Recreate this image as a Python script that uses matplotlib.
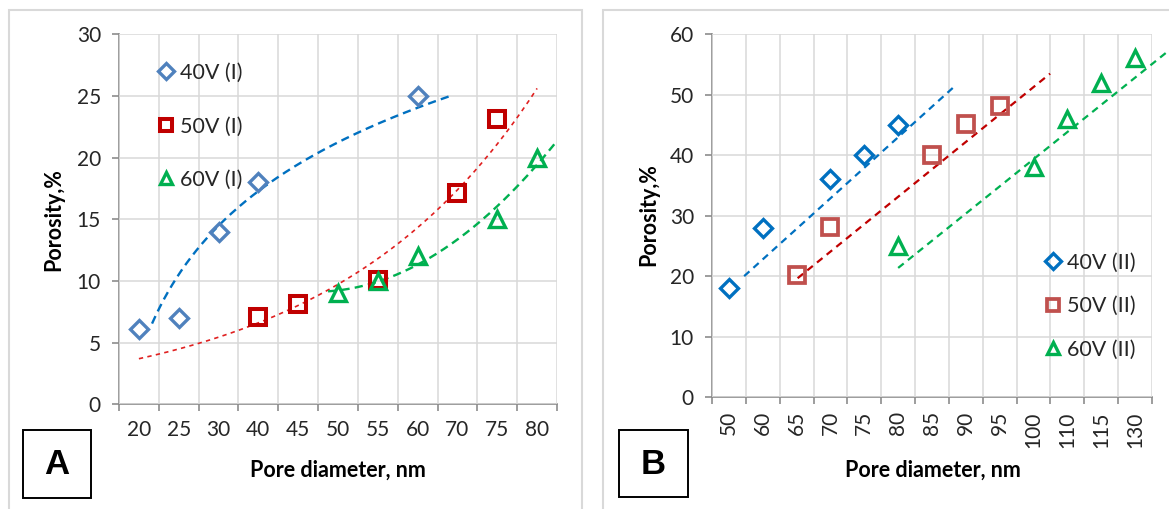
import numpy as np
import matplotlib
matplotlib.use('Agg')
import matplotlib.pyplot as plt
from matplotlib.patches import Rectangle

plt.rcParams['font.family'] = ['Lato', 'DejaVu Sans']

# ---------------- data ----------------
cats_a = ['20', '25', '30', '40', '45', '50', '55', '60', '70', '75', '80']
a_40v = [6.1, 7.0, 14.0, 18.0, None, None, None, 25.0, None, None, None]
a_50v = [None, None, None, 7.1, 8.1, None, 10.1, None, 17.1, 23.1, None]
a_60v = [None, None, None, None, None, 9.0, 10.0, 12.0, None, 15.0, 20.0]
labels_a = ['40V (I)', '50V (I)', '60V (I)']

cats_b = ['50', '60', '65', '70', '75', '80', '85', '90', '95', '100', '110', '115', '130']
b_40v = [18.0, 28.0, None, 36.0, 40.0, 45.0, None, None, None, None, None, None, None]
b_50v = [None, None, 20.2, 28.1, None, None, 40.1, 45.1, 48.1, None, None, None, None]
b_60v = [None, None, None, None, None, 25.0, None, None, None, 38.0, 46.0, 52.0, 56.0]
labels_b = ['40V (II)', '50V (II)', '60V (II)']

W, H = 1169, 509
fig = plt.figure(figsize=(W / 100, H / 100), dpi=100)


def fx(px):
    return px / W


def fy(py):
    return 1 - py / H


def pts(vals):
    x = np.array([i for i, v in enumerate(vals) if v is not None], float)
    y = np.array([v for v in vals if v is not None], float)
    return x, y


def trend(vals, kind, deg, x0, x1, shift=0.0):
    x, y = pts(vals)
    xs = np.linspace(x0, x1, 300)
    xf = xs - shift
    if kind == 'exp':
        c = np.polyfit(x, np.log(y), 1)
        ys = np.exp(np.polyval(c, xf))
    elif kind == 'log':
        c = np.polyfit(np.log(x + 1), y, 1)
        ys = np.polyval(c, np.log(xf + 1))
    else:
        c = np.polyfit(x, y, deg)
        ys = np.polyval(c, xf)
    return xs, ys


GRID = '#d9d9d9'
AXC = '#8c8c8c'
TXT = '#262626'
TICK_FS = 15
LEG_FS = 15.5
LAB_FS = 15.5


def setup(ax, cats, ymax, ystep, rot):
    n = len(cats)
    ax.set_xlim(-0.5, n - 0.5)
    ax.set_ylim(0, ymax)
    ax.set_xticks(range(n))
    ax.set_xticklabels(cats, rotation=rot)
    ax.set_xticks(np.arange(-0.5, n, 1.0), minor=True)
    ax.set_yticks(np.arange(0, ymax + 0.1, ystep))
    ax.tick_params(axis='x', which='major', length=0, labelsize=TICK_FS, labelcolor=TXT,
                   pad=11 if rot == 0 else 10)
    ax.tick_params(axis='x', which='minor', length=5, width=1.2, color=AXC)
    ax.tick_params(axis='y', which='major', length=5, width=1.2, color=AXC,
                   labelsize=TICK_FS, labelcolor=TXT, pad=8)
    ax.grid(True, which='minor', axis='x', color=GRID, lw=1.1)
    ax.grid(True, which='major', axis='y', color=GRID, lw=1.1)
    ax.set_axisbelow(True)
    for s in ['top', 'right']:
        ax.spines[s].set_visible(False)
    for s in ['left', 'bottom']:
        ax.spines[s].set_color(AXC)
        ax.spines[s].set_linewidth(1.2)
        ax.spines[s].set_zorder(0.5)


# ---------------- panel A ----------------
axA = fig.add_axes([fx(119), fy(404.3), fx(557) - fx(119), fy(34.3) - fy(404.3)])
setup(axA, cats_a, 30, 5, 0)

x, ys = trend(a_40v, 'log', 1, 0.33, 7.87)
axA.plot(x, ys, color='#0070c0', lw=1.7, dashes=(3.5, 2.2), zorder=2)
x, ys = trend(a_50v, 'exp', 1, 0.0, 10.0)
axA.plot(x, ys, color='#e02020', lw=1.2, dashes=(2.6, 2.6), zorder=2)
x, ys = trend(a_60v, 'poly', 2, 4.75, 10.45)
axA.plot(x, ys, color='#00b050', lw=1.7, dashes=(3.5, 2.2), zorder=2)

hA = []
x, y = pts(a_40v)
hA += axA.plot(x, y, ls='none', marker='D', ms=9.6, mew=2.4, mfc='none', mec='#4f81bd', zorder=3, clip_on=False)
x, y = pts(a_50v)
hA += axA.plot(x, y, ls='none', marker='s', ms=11.2, mew=2.9, mfc='none', mec='#c00000', zorder=3, clip_on=False)
x, y = pts(a_60v)
hA += axA.plot(x, y, ls='none', marker='^', ms=11.5, mew=2.4, mfc='none', mec='#00b050', zorder=4, clip_on=False)

legA = axA.legend(hA, labels_a, loc='upper left', bbox_to_anchor=(fx(158), fy(63)),
                  bbox_transform=fig.transFigure, frameon=False, fontsize=LEG_FS,
                  handlelength=0.75, handletextpad=0.25, labelspacing=1.55, borderpad=0,
                  borderaxespad=0, markerscale=0.8)
for t in legA.get_texts():
    t.set_color(TXT)

fig.text(fx(54), fy(220), 'Porosity,%', rotation=90, ha='center', va='center',
         fontsize=LAB_FS, fontweight='bold', color='black')
fig.text(fx(338), fy(470), 'Pore diameter, nm', ha='center', va='center',
         fontsize=LAB_FS, fontweight='bold', color='black')

# ---------------- panel B ----------------
axB = fig.add_axes([fx(712), fy(397.3), fx(1152) - fx(712), fy(34.3) - fy(397.3)])
setup(axB, cats_b, 60, 10, 90)

x, ys = trend(b_40v, 'poly', 1, 0.45, 6.63, shift=0.5)
axB.plot(x, ys, color='#0070c0', lw=1.6, dashes=(3.2, 2.4), zorder=2)
x, ys = trend(b_50v, 'poly', 1, 2.03, 9.49, shift=0.5)
axB.plot(x, ys, color='#c00000', lw=1.6, dashes=(3.2, 2.4), zorder=2)
x, ys = trend(b_60v, 'poly', 1, 5.0, 13.49, shift=0.5)
axB.plot(x, ys, color='#00b050', lw=1.6, dashes=(3.2, 2.4), zorder=2, clip_on=False)

hB = []
x, y = pts(b_40v)
hB += axB.plot(x, y, ls='none', marker='D', ms=9.6, mew=2.4, mfc='none', mec='#0070c0', zorder=3, clip_on=False)
x, y = pts(b_50v)
hB += axB.plot(x, y, ls='none', marker='s', ms=11.2, mew=2.7, mfc='none', mec='#c0504d', zorder=3, clip_on=False)
x, y = pts(b_60v)
hB += axB.plot(x, y, ls='none', marker='^', ms=11.5, mew=2.4, mfc='none', mec='#00b050', zorder=4, clip_on=False)

legB = axB.legend(hB, labels_b, loc='upper left', bbox_to_anchor=(fx(1045), fy(253)),
                  bbox_transform=fig.transFigure, frameon=False, fontsize=LEG_FS,
                  handlelength=0.75, handletextpad=0.25, labelspacing=1.08, borderpad=0,
                  borderaxespad=0, markerscale=0.8)
for t in legB.get_texts():
    t.set_color(TXT)

fig.text(fx(649), fy(215), 'Porosity,%', rotation=90, ha='center', va='center',
         fontsize=LAB_FS, fontweight='bold', color='black')
fig.text(fx(933), fy(470), 'Pore diameter, nm', ha='center', va='center',
         fontsize=LAB_FS, fontweight='bold', color='black')

# ---------------- frames and panel letters ----------------
fig.patches.append(Rectangle((fx(9), fy(520)), fx(582) - fx(9), fy(10) - fy(520),
                             transform=fig.transFigure, fill=False, ec='#d9d9d9', lw=1.5))
fig.patches.append(Rectangle((fx(603), fy(520)), fx(1190) - fx(603), fy(10) - fy(520),
                             transform=fig.transFigure, fill=False, ec='#d9d9d9', lw=1.5))

for (x0, x1, y0, y1, letter) in [(23, 91, 430, 498, 'A'), (619, 688, 430, 497, 'B')]:
    fig.patches.append(Rectangle((fx(x0), fy(y1)), fx(x1) - fx(x0), fy(y0) - fy(y1),
                                 transform=fig.transFigure, fill=False, ec='black', lw=1.4))
    fig.text(fx((x0 + x1) / 2), fy((y0 + y1) / 2 + 1), letter, ha='center', va='center',
             fontsize=25, fontweight='bold', color='black', family=['Liberation Sans', 'DejaVu Sans'])

fig.savefig('out.png', dpi=100)
